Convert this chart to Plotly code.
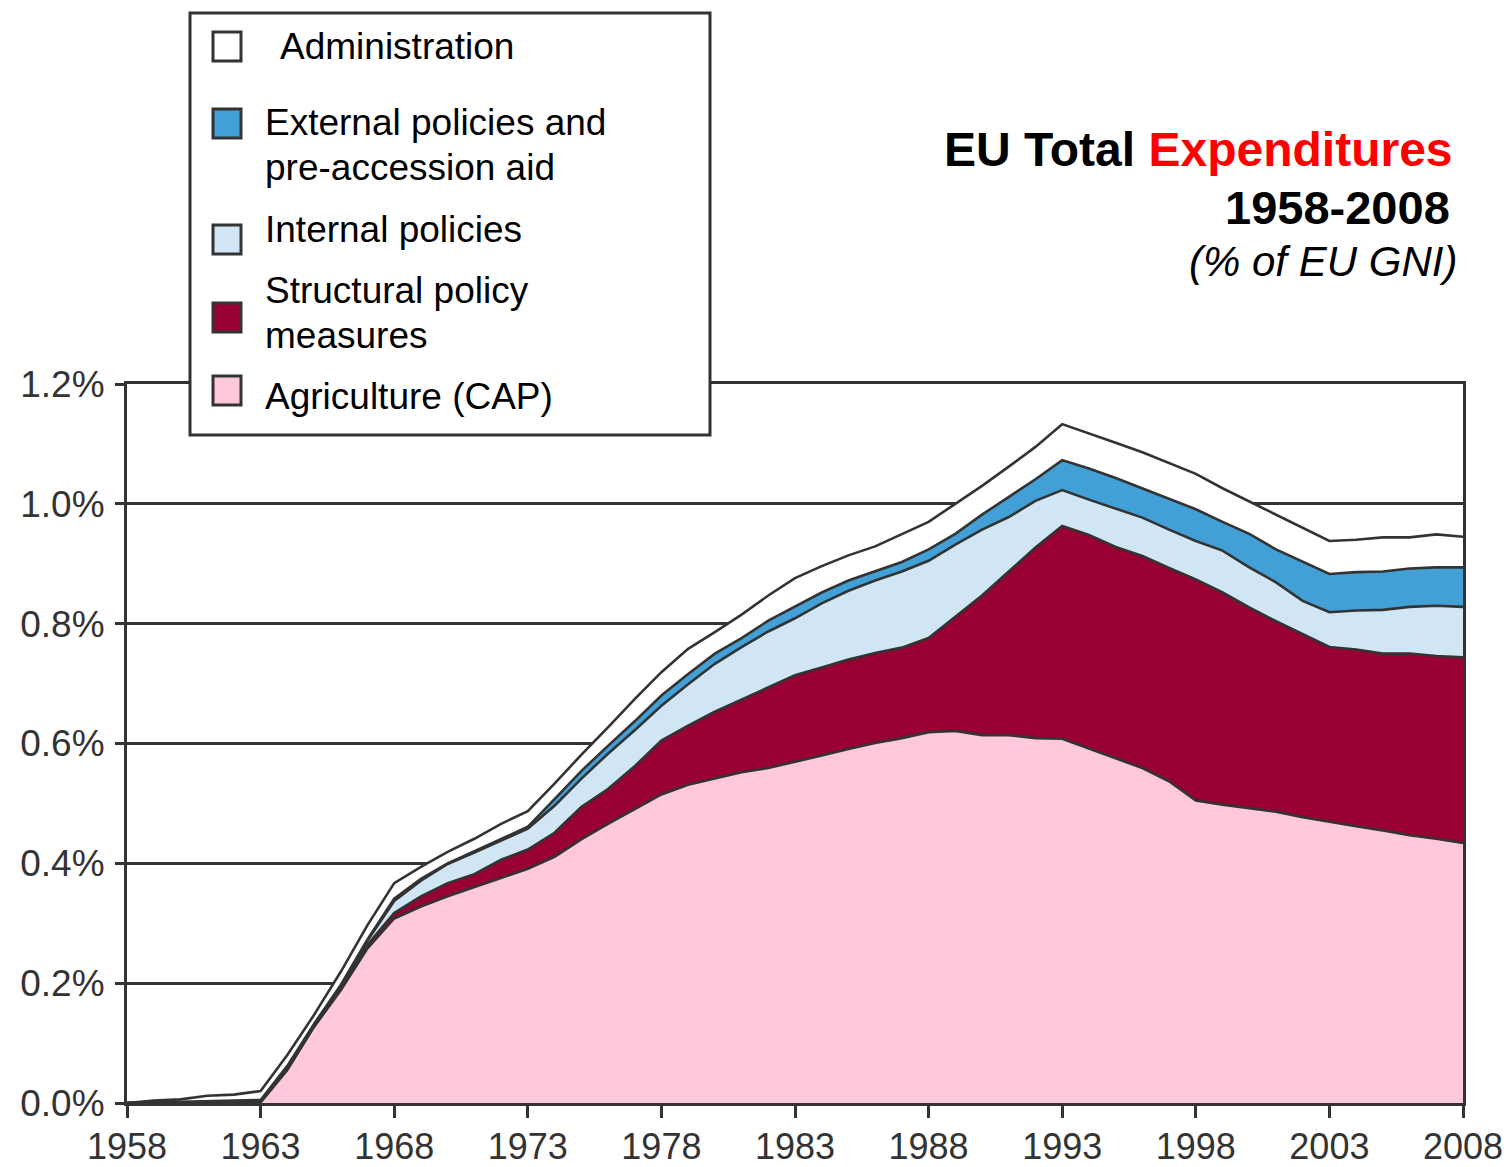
import plotly.graph_objects as go

# ---------------- data (% of EU GNI) ----------------
years = list(range(1958, 2009))

agriculture = [0, 0, 0.001, 0.001, 0.001, 0.001, 0.055, 0.127, 0.188, 0.258, 0.308,
               0.328, 0.345, 0.360, 0.375, 0.391, 0.411, 0.440, 0.466, 0.491, 0.515,
               0.531, 0.541, 0.552, 0.559, 0.569, 0.580, 0.591, 0.601, 0.609, 0.619,
               0.621, 0.614, 0.614, 0.609, 0.608, 0.592, 0.576, 0.559, 0.537, 0.505,
               0.498, 0.492, 0.486, 0.477, 0.469, 0.462, 0.455, 0.447, 0.441, 0.434]

structural = [0, 0, 0.001, 0.001, 0.001, 0.001, 0.002, 0.002, 0.003, 0.006, 0.009,
              0.017, 0.022, 0.022, 0.031, 0.032, 0.040, 0.054, 0.058, 0.071, 0.090,
              0.099, 0.112, 0.121, 0.134, 0.145, 0.147, 0.149, 0.150, 0.151, 0.157,
              0.191, 0.233, 0.273, 0.318, 0.355, 0.356, 0.352, 0.354, 0.356, 0.369,
              0.354, 0.335, 0.318, 0.305, 0.292, 0.295, 0.295, 0.303, 0.305, 0.310]

internal = [0, 0.001, 0.001, 0.002, 0.002, 0.002, 0.003, 0.002, 0.004, 0.007, 0.020,
            0.026, 0.032, 0.036, 0.032, 0.035, 0.045, 0.047, 0.059, 0.060, 0.058,
            0.069, 0.080, 0.088, 0.094, 0.095, 0.107, 0.115, 0.121, 0.127, 0.129,
            0.120, 0.110, 0.091, 0.078, 0.060, 0.059, 0.064, 0.064, 0.064, 0.064,
            0.070, 0.067, 0.065, 0.056, 0.058, 0.065, 0.073, 0.078, 0.084, 0.084]

external = [0, 0, 0, 0, 0, 0.001, 0.002, 0.001, 0.002, 0.002, 0.004,
            0.003, 0.001, 0.002, 0.002, 0.003, 0.011, 0.013, 0.013, 0.015, 0.017,
            0.017, 0.017, 0.015, 0.018, 0.020, 0.018, 0.017, 0.016, 0.016, 0.019,
            0.018, 0.025, 0.034, 0.036, 0.050, 0.052, 0.051, 0.049, 0.051, 0.053,
            0.048, 0.056, 0.055, 0.066, 0.064, 0.064, 0.064, 0.064, 0.064, 0.066]

administration = [0, 0.003, 0.003, 0.008, 0.010, 0.015, 0.018, 0.015, 0.022, 0.024, 0.026,
                  0.020, 0.019, 0.021, 0.026, 0.026, 0.026, 0.027, 0.031, 0.037, 0.039,
                  0.042, 0.036, 0.039, 0.042, 0.047, 0.044, 0.042, 0.041, 0.047, 0.046,
                  0.050, 0.048, 0.050, 0.054, 0.060, 0.059, 0.059, 0.060, 0.060, 0.059,
                  0.056, 0.054, 0.059, 0.057, 0.055, 0.054, 0.057, 0.052, 0.055, 0.051]

x_ticks = list(range(1958, 2009, 5))
y_ticks = [0.0, 0.2, 0.4, 0.6, 0.8, 1.0, 1.2]

series = [
    ("Agriculture (CAP)", agriculture, "#FFC8DB"),
    ("Structural policy measures", structural, "#990033"),
    ("Internal policies", internal, "#D0E6F5"),
    ("External policies and pre-accession aid", external, "#42A0D6"),
    ("Administration", administration, "#FFFFFF"),
]

DARK = "#333333"
FONT = "Liberation Sans, Arial, sans-serif"

fig = go.Figure()
for name, vals, col in series:
    fig.add_trace(go.Scatter(
        x=years, y=vals, name=name, mode="lines", stackgroup="one",
        line=dict(color=DARK, width=2.6), fillcolor=col, showlegend=False,
    ))

W, H = 1506, 1167
L, R, T, B = 127, 43, 384, 64
PW, PH = W - L - R, H - T - B


def px(x):
    return (x - L) / PW


def py(y):
    return (H - B - y) / PH


shapes = []
annotations = []

# legend box
shapes.append(dict(type="rect", xref="paper", yref="paper", layer="above",
                   x0=px(190), x1=px(710), y0=py(435), y1=py(13),
                   fillcolor="white", line=dict(color=DARK, width=3)))

legend_items = [
    ("#FFFFFF", 32, 61, [("Administration", 278, 47)]),
    ("#42A0D6", 109, 138, [("External policies and", 263, 123),
                           ("pre-accession aid", 263, 168)]),
    ("#D0E6F5", 225, 254, [("Internal policies", 263, 229)]),
    ("#990033", 303, 332, [("Structural policy", 263, 291),
                           ("measures", 263, 335)]),
    ("#FFC8DB", 376, 405, [("Agriculture (CAP)", 263, 396)]),
]
for col, y0, y1, texts in legend_items:
    shapes.append(dict(type="rect", xref="paper", yref="paper", layer="above",
                       x0=px(213), x1=px(241), y0=py(y1), y1=py(y0),
                       fillcolor=col, line=dict(color=DARK, width=3)))
    for txt, tx, ty in texts:
        annotations.append(dict(text=txt, xref="paper", yref="paper",
                                x=px(tx), y=py(ty), xanchor="left", yanchor="middle",
                                showarrow=False,
                                font=dict(family=FONT, size=37, color="black")))

# title block
annotations.append(dict(
    text="<b>EU Total <span style='color:#FF0000'>Expenditures</span></b>",
    xref="paper", yref="paper", x=px(1455), y=py(149), xanchor="right", yanchor="middle",
    showarrow=False, font=dict(family=FONT, size=48, color="black")))
annotations.append(dict(
    text="<b>1958-2008</b>",
    xref="paper", yref="paper", x=px(1452), y=py(207), xanchor="right", yanchor="middle",
    showarrow=False, font=dict(family=FONT, size=47, color="black")))
annotations.append(dict(
    text="<i>(% of EU GNI)</i>",
    xref="paper", yref="paper", x=px(1459), y=py(261), xanchor="right", yanchor="middle",
    showarrow=False, font=dict(family=FONT, size=42, color="black")))

fig.update_layout(
    width=W, height=H, autosize=False,
    margin=dict(l=L, r=R, t=T, b=B, pad=0, autoexpand=False),
    paper_bgcolor="white", plot_bgcolor="white",
    showlegend=False,
    shapes=shapes, annotations=annotations,
    font=dict(family=FONT, color=DARK),
)
fig.update_xaxes(
    range=[1958, 2008], tickvals=x_ticks, ticktext=[str(v) for v in x_ticks],
    showgrid=False, zeroline=False, automargin=False,
    showline=True, linecolor=DARK, linewidth=3, mirror=True,
    ticks="outside", ticklen=12, tickwidth=3, tickcolor=DARK,
    tickfont=dict(size=36, color=DARK, family=FONT),
    ticklabelstandoff=-2,
)
fig.update_yaxes(
    range=[0, 1.2], tickvals=y_ticks, ticktext=[f"{v:.1f}%" for v in y_ticks],
    showgrid=True, gridcolor=DARK, gridwidth=3, zeroline=False, automargin=False,
    showline=True, linecolor=DARK, linewidth=3, mirror=True,
    ticks="outside", ticklen=9, tickwidth=3, tickcolor=DARK,
    tickfont=dict(size=37, color=DARK, family=FONT),
    ticklabelstandoff=3,
)

fig.write_html(
    "out.html",
    config={"responsive": False, "displayModeBar": False},
    post_script="document.body.style.margin='0';document.body.style.overflow='hidden';",
)
